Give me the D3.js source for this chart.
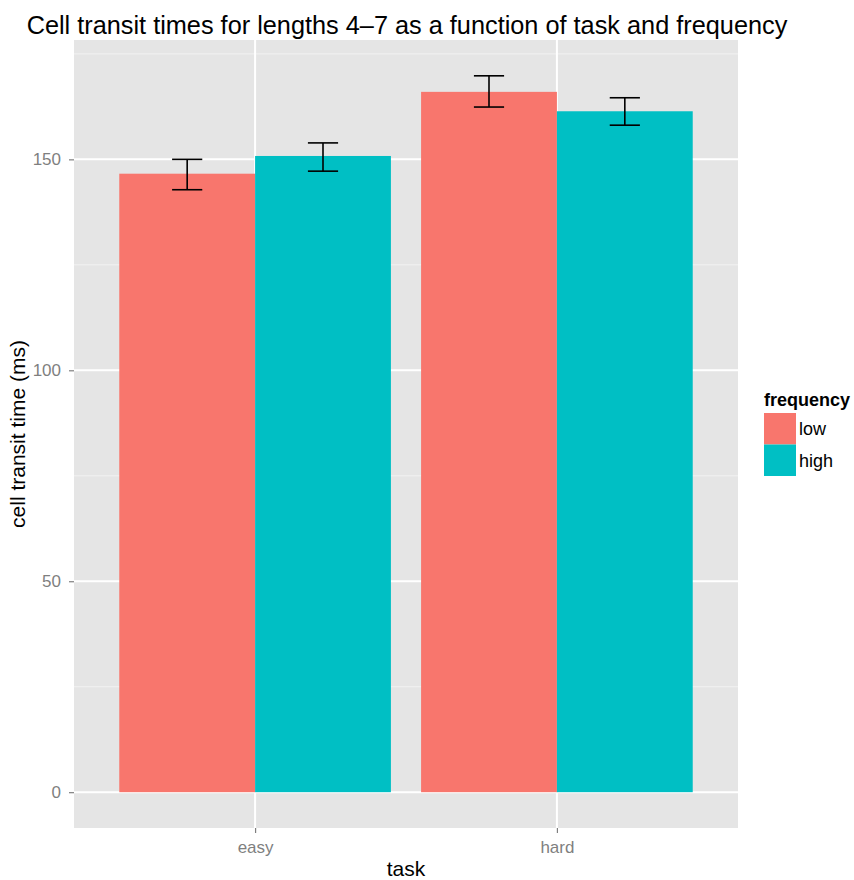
<!DOCTYPE html>
<html><head><meta charset="utf-8">
<script src="https://cdn.jsdelivr.net/npm/d3@7"></script>
<style>body{margin:0;background:#fff;} text{font-family:"Liberation Sans",Arial,Helvetica,sans-serif;}</style>
</head><body>
<svg id="chart" width="854" height="880"></svg>
<script>
const tasks = ["easy", "hard"];
const frequencies = ["low", "high"];
const meanLow = [146.6, 166.0];
const meanHigh = [150.8, 161.4];
const errLowMin = [142.8, 162.4];
const errLowMax = [150.0, 169.8];
const errHighMin = [147.2, 158.1];
const errHighMax = [153.9, 164.6];
const yTicks = [0, 50, 100, 150];
const yMinor = [25, 75, 125, 175];
const colors = ["#F8766D", "#00BFC4"];

const data = [];
tasks.forEach((t, i) => {
  data.push({task: t, freq: "low", value: meanLow[i], lo: errLowMin[i], hi: errLowMax[i]});
  data.push({task: t, freq: "high", value: meanHigh[i], lo: errHighMin[i], hi: errHighMax[i]});
});

const svg = d3.select("#chart");
const panel = {left: 74, right: 738, top: 40, bottom: 828};

const yMaxData = d3.max(data, d => d.hi);
const yPad = yMaxData * 0.05;
const y = d3.scaleLinear().domain([0 - yPad, yMaxData + yPad]).range([panel.bottom, panel.top]);

const x = d3.scaleLinear().domain([0.4, tasks.length + 0.6]).range([panel.left, panel.right]);
const xPos = t => x(tasks.indexOf(t) + 1);
const unit = x(1) - x(0);
const barW = 0.45 * unit;
const dodge = f => frequencies.indexOf(f) === 0 ? -barW : 0;
const color = d3.scaleOrdinal().domain(frequencies).range(colors);

svg.append("rect").attr("x", panel.left).attr("y", panel.top)
  .attr("width", panel.right - panel.left).attr("height", panel.bottom - panel.top)
  .attr("fill", "#E5E5E5");

svg.append("g").selectAll("line").data(yMinor).join("line")
  .attr("x1", panel.left).attr("x2", panel.right)
  .attr("y1", d => y(d)).attr("y2", d => y(d))
  .attr("stroke", "#F2F2F2").attr("stroke-width", 1);
svg.append("g").selectAll("line").data(yTicks).join("line")
  .attr("x1", panel.left).attr("x2", panel.right)
  .attr("y1", d => y(d)).attr("y2", d => y(d))
  .attr("stroke", "#FFFFFF").attr("stroke-width", 2);
svg.append("g").selectAll("line").data(tasks).join("line")
  .attr("x1", d => xPos(d)).attr("x2", d => xPos(d))
  .attr("y1", panel.top).attr("y2", panel.bottom)
  .attr("stroke", "#FFFFFF").attr("stroke-width", 2);

svg.append("g").selectAll("rect").data(data).join("rect")
  .attr("x", d => xPos(d.task) + dodge(d.freq))
  .attr("width", barW)
  .attr("y", d => y(d.value))
  .attr("height", d => y(0) - y(d.value))
  .attr("fill", d => color(d.freq));

const ebW = 0.1 * unit;
const eb = svg.append("g").attr("stroke", "#000").attr("stroke-width", 1.6).attr("fill", "none");
data.forEach(d => {
  const cx = xPos(d.task) + dodge(d.freq) + barW / 2;
  eb.append("line").attr("x1", cx).attr("x2", cx).attr("y1", y(d.lo)).attr("y2", y(d.hi));
  eb.append("line").attr("x1", cx - ebW / 2).attr("x2", cx + ebW / 2).attr("y1", y(d.lo)).attr("y2", y(d.lo));
  eb.append("line").attr("x1", cx - ebW / 2).attr("x2", cx + ebW / 2).attr("y1", y(d.hi)).attr("y2", y(d.hi));
});

const yAxis = d3.axisLeft(y).tickValues(yTicks).tickSize(5).tickPadding(8);
const gy = svg.append("g").attr("transform", `translate(${panel.left},0)`).call(yAxis);
gy.select(".domain").remove();
gy.selectAll("line").attr("stroke", "#7F7F7F").attr("stroke-width", 1.2);
gy.selectAll("text").attr("fill", "#7F7F7F").style("font-size", "17px").style("font-family", "Liberation Sans, Arial, sans-serif");

const xBand = d3.scalePoint().domain(tasks).range([xPos(tasks[0]), xPos(tasks[tasks.length - 1])]);
const xAxis = d3.axisBottom(xBand).tickSize(5).tickPadding(8);
const gx = svg.append("g").attr("transform", `translate(0,${panel.bottom})`).call(xAxis);
gx.select(".domain").remove();
gx.selectAll("line").attr("stroke", "#7F7F7F").attr("stroke-width", 1.2);
gx.selectAll("text").attr("fill", "#7F7F7F").style("font-size", "17px").style("font-family", "Liberation Sans, Arial, sans-serif");

svg.append("text").attr("x", (panel.left + panel.right) / 2).attr("y", 876)
  .attr("text-anchor", "middle").style("font-size", "21px").text("task");
svg.append("text").attr("transform", `translate(25,${(panel.top + panel.bottom) / 2}) rotate(-90)`)
  .attr("text-anchor", "middle").style("font-size", "21px").text("cell transit time (ms)");

svg.append("text").attr("x", 407).attr("y", 34)
  .attr("text-anchor", "middle").style("font-size", "25.3px")
  .text("Cell transit times for lengths 4\u20137 as a function of task and frequency");

const lg = svg.append("g").attr("transform", "translate(764,406)");
lg.append("text").attr("x", 0).attr("y", 0).style("font-size", "18px").style("font-weight", "bold").text("frequency");
frequencies.forEach((f, i) => {
  lg.append("rect").attr("x", 0).attr("y", 7 + i * 31.5).attr("width", 32).attr("height", 31.5).attr("fill", color(f));
  lg.append("text").attr("x", 35).attr("y", 7 + i * 31.5 + 22).style("font-size", "18px").text(f);
});
</script>
</body></html>
